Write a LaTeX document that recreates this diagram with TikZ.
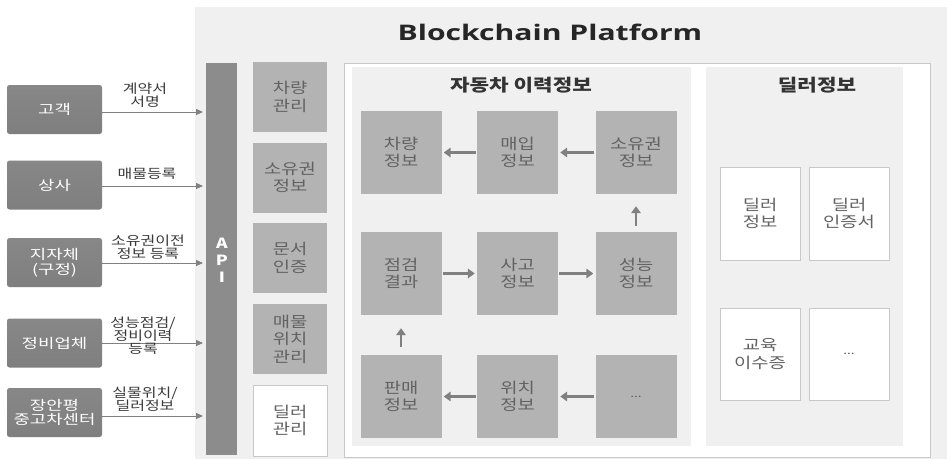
\documentclass[tikz,border=0pt]{standalone}
\usepackage{fontspec}
\setmainfont{Noto Sans CJK KR}[FakeStretch=1.25]
\newfontfamily\leftfont{Noto Sans CJK KR}[FakeStretch=1.32]
\newfontfamily\titlefont{Open Sans}[FakeStretch=1.4]
\usetikzlibrary{arrows.meta}
\definecolor{platbg}{HTML}{F0F0F0}
\definecolor{apigray}{HTML}{8C8C8C}
\definecolor{boxgray}{HTML}{B3B3B3}
\definecolor{leftgray}{HTML}{7F7F7F}
\definecolor{lefttop}{HTML}{878787}
\definecolor{txtgray}{HTML}{626262}
\definecolor{arrgray}{HTML}{808080}
\definecolor{bordgray}{HTML}{C8C8C8}
\definecolor{lbltxt}{HTML}{3A3A3A}
\begin{document}
\begin{tikzpicture}[x=1pt,y=-1pt,
  leftbox/.style={top color=lefttop, bottom color=leftgray, rounded corners=2.5pt, minimum width=95pt, minimum height=49pt,
    text=white, font=\leftfont\fontsize{13.5}{14.5}\selectfont, align=center, inner sep=0pt},
  lbl/.style={text=lbltxt, font=\fontsize{12.8}{13}\selectfont, align=center, inner sep=0pt},
  colbox/.style={fill=boxgray, minimum width=74pt, minimum height=70pt, text=txtgray,
    font=\fontsize{15}{17.5}\selectfont, align=center, inner sep=0pt},
  histbox/.style={fill=boxgray, minimum width=81pt, minimum height=83pt, text=txtgray,
    font=\fontsize{15}{17.5}\selectfont, align=center, inner sep=0pt},
  dealbox/.style={fill=white, draw=bordgray, line width=0.8pt, minimum width=80pt, minimum height=92pt,
    text=txtgray, font=\fontsize{15}{17.5}\selectfont, align=center, inner sep=0pt},
  inarrow/.style={draw=arrgray, line width=0.8pt, -{Triangle[length=7pt,width=6pt]}},
  flowarrow/.style={draw=arrgray, line width=2.8pt, -{Triangle[length=7pt,width=9.5pt]}},
  paneltitle/.style={text=black!80, font=\bfseries\fontsize{17}{20}\selectfont, inner sep=0pt},
  apiletter/.style={text=white, font=\bfseries\fontsize{14}{16}\selectfont, inner sep=0pt}
]
\useasboundingbox (0,0) rectangle (947,460);
\fill[white] (0,0) rectangle (947,460);
% platform background
\fill[platbg] (195,7) rectangle (947,459);
\node[font=\titlefont\bfseries\fontsize{21.5}{24}\selectfont, text=black!85, inner sep=0pt] (title) at (550,32) {Blockchain Platform};
% API bar
\fill[apigray] (206,63) rectangle (237,455);
\node[apiletter] (apiA) at (222,243) {A};
\node[apiletter] (apiP) at (222,260) {P};
\node[apiletter] (apiI) at (222,277) {I};
% left entities
\node[leftbox] (c1) at (54.5,109.5) {고객};
\node[leftbox] (c2) at (54.5,185) {상사};
\node[leftbox] (c3) at (54.5,262.5) {지자체\\(구정)};
\node[leftbox] (c4) at (54.5,343) {정비업체};
\node[leftbox] (c5) at (54.5,412.5) {장안평\\중고차센터};
\foreach \n/\yy in {1/112,2/186,3/263,4/343,5/416}{
  \coordinate (s\n) at (102,\yy);
  \coordinate (e\n) at (203,\yy);
  \draw[inarrow] (s\n) -- (e\n);
}
\node[lbl] (l1) at (145,95) {계약서\\서명};
\node[lbl] (l2) at (147,174) {매물등록};
\node[lbl] (l3) at (148,247.5) {소유권이전\\정보 등록};
\node[lbl] (l4) at (143,336) {성능점검/\\정비이력\\등록};
\node[lbl] (l5) at (145,399) {실물위치/\\딜러정보};
% service column
\node[colbox] (s1) at (290,97) {차량\\관리};
\node[colbox] (s2) at (290,177.5) {소유권\\정보};
\node[colbox] (s3) at (290,258) {문서\\인증};
\node[colbox] (s4) at (290,339) {매물\\위치\\관리};
\node[colbox, fill=white, draw=bordgray, line width=0.8pt, minimum height=71pt] (s5) at (290,420.5) {딜러\\관리};
% inner white frame and panels
\draw[bordgray, line width=0.8pt, fill=white] (344,63) rectangle (930,457);
\fill[platbg] (352,67) rectangle (691,446);
\fill[platbg] (706,67) rectangle (903,446);
\node[paneltitle] (t1) at (521,85) {자동차 이력정보};
\node[paneltitle] (t2) at (817,85) {딜러정보};
% history boxes
\node[histbox] (h11) at (401,152.5) {차량\\정보};
\node[histbox] (h12) at (517.5,152.5) {매입\\정보};
\node[histbox] (h13) at (636,152.5) {소유권\\정보};
\node[histbox] (h21) at (401,273.5) {점검\\결과};
\node[histbox] (h22) at (517.5,273.5) {사고\\정보};
\node[histbox] (h23) at (636,273.5) {성능\\정보};
\node[histbox] (h31) at (401,396.5) {판매\\정보};
\node[histbox] (h32) at (517.5,396.5) {위치\\정보};
\node[histbox] (h33) at (636,396.5) {\fontsize{11}{12}\selectfont ...};
\draw[flowarrow, shorten <=1pt, shorten >=2pt] (h12) -- (h11);
\draw[flowarrow, shorten <=1pt, shorten >=2pt] (h13) -- (h12);
\draw[flowarrow, shorten <=1pt, shorten >=2pt] (h21) -- (h22);
\draw[flowarrow, shorten <=1pt, shorten >=2pt] (h22) -- (h23);
\draw[flowarrow, shorten <=1pt, shorten >=2pt] (h32) -- (h31);
\draw[flowarrow, shorten <=1pt, shorten >=2pt] (h33) -- (h32);
\draw[flowarrow, shorten <=6pt, shorten >=12pt] (h23) -- (h13);
\draw[flowarrow, shorten <=8pt, shorten >=13pt] (h31) -- (h21);
% dealer boxes
\node[dealbox, minimum height=93pt] (d11) at (760,213.5) {딜러\\정보};
\node[dealbox, minimum height=93pt] (d12) at (849,213.5) {딜러\\인증서};
\node[dealbox] (d21) at (760,354) {교육\\이수증};
\node[dealbox] (d22) at (849,354) {\fontsize{11}{12}\selectfont ...};
\end{tikzpicture}
\end{document}
